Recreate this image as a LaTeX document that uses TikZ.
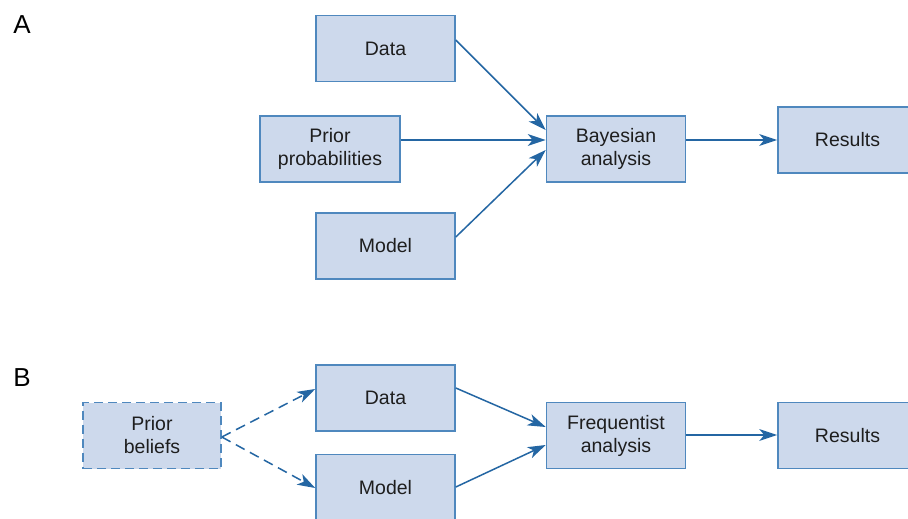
\documentclass[tikz,border=0pt]{standalone}
\usepackage{fontspec}
\setmainfont{Liberation Sans}
\usetikzlibrary{arrows.meta,calc}
\definecolor{boxfill}{HTML}{CDD9EC}
\definecolor{boxline}{HTML}{4F88BE}
\definecolor{arrowcol}{HTML}{2466A3}
\definecolor{textcol}{HTML}{1E1E1E}
\tikzset{
  box/.style={draw=boxline, line width=1.6pt, fill=boxfill, minimum width=139pt,
    minimum height=66pt, inner sep=0pt, align=center, text=textcol,
    font=\fontsize{19.5}{23}\selectfont},
  dashedbox/.style={box, dash pattern=on 9pt off 5pt},
  flow/.style={draw=arrowcol, line width=1.5pt,
    -{Stealth[length=18pt,width=12pt,inset=5pt,line width=0pt]}},
  dashedflow/.style={flow, dash pattern=on 10pt off 6pt},
  panel/.style={font=\fontsize{26}{30}\selectfont, text=black, inner sep=0pt}
}
\begin{document}
\begin{tikzpicture}[x=1pt,y=1pt]
\useasboundingbox (0,0) rectangle (908,-519);
\clip (0,0) rectangle (908,-519);
\fill[white] (0,0) rectangle (908,-519);

% Panel A: Bayesian workflow
\node[panel] (labA) at (22,-25) {A};
\node[box] (dataA) at (385.5,-48.5) {Data};
\node[box, minimum width=140pt] (priorA) at (330,-149) {Prior\\probabilities};
\node[box] (modelA) at (385.5,-246) {Model};
\node[box] (bay) at (616,-149) {Bayesian\\analysis};
\node[box] (resA) at (847.5,-140) {Results};

\draw[flow] ($(dataA.east)+(0,8.5)$) -- ($(bay.west)+(0,19)$);
\draw[flow] ($(priorA.east)+(0,9)$) -- ($(bay.west)+(0,9)$);
\draw[flow] ($(modelA.east)+(0,9)$) -- ($(bay.west)+(0,-1)$);
\draw[flow] ($(bay.east)+(0,9)$) -- (resA.west);

% Panel B: frequentist workflow
\node[panel] (labB) at (22,-378) {B};
\node[dashedbox, minimum width=138pt] (priorB) at (152,-435.5) {Prior\\beliefs};
\node[box] (dataB) at (385.5,-398) {Data};
\node[box] (modelB) at (385.5,-487.5) {Model};
\node[box] (freq) at (616,-435.5) {Frequentist\\analysis};
\node[box] (resB) at (847.5,-435.5) {Results};

\draw[dashedflow] ($(priorB.east)+(0,-1.5)$) -- ($(dataB.west)+(0,9)$);
\draw[dashedflow] ($(priorB.east)+(0,-1.5)$) -- ($(modelB.west)+(0,-0.5)$);
\draw[flow] ($(dataB.east)+(0,10)$) -- ($(freq.west)+(0,8.5)$);
\draw[flow] ($(modelB.east)+(0,0.5)$) -- ($(freq.west)+(0,-9.5)$);
\draw[flow] ($(freq.east)+(0,0.5)$) -- ($(resB.west)+(0,0.5)$);
\end{tikzpicture}
\end{document}
